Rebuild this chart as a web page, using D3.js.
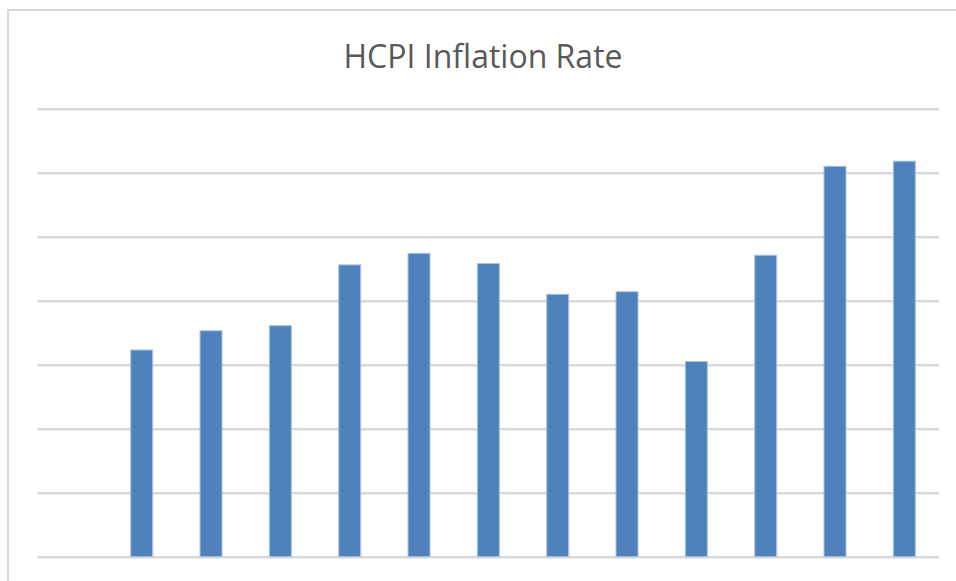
<!DOCTYPE html>
<html>
<head>
<meta charset="utf-8">
<script src="https://cdn.jsdelivr.net/npm/d3@7"></script>
<style>
  body { margin: 0; background: #fff; }
  .grid line { stroke: #d9d9d9; stroke-width: 2.5; }
  .grid .domain { display: none; }
</style>
</head>
<body>
<script>
// chart data (categories are not labelled in the original)
var categories = ["c0", "c1", "c2", "c3", "c4", "c5", "c6", "c7", "c8", "c9", "c10", "c11", "c12"];
var rates = [null, 3.23, 3.53, 3.61, 4.56, 4.74, 4.58, 4.10, 4.14, 3.05, 4.71, 6.10, 6.18];
var yTicks = [0, 1, 2, 3, 4, 5, 6, 7];
var chartTitle = "HCPI Inflation Rate";

var svgWidth = 956;
var svgHeight = 581;

var margin = { top: 108.7, right: 17, bottom: 24.3, left: 37.7 };
var chartWidth = svgWidth - margin.left - margin.right;
var chartHeight = svgHeight - margin.top - margin.bottom;

var svg = d3.select("body")
  .append("svg")
  .attr("width", svgWidth)
  .attr("height", svgHeight);

// outer chart border
svg.append("rect")
  .attr("x", 8)
  .attr("y", 10)
  .attr("width", 980)
  .attr("height", 600)
  .attr("fill", "none")
  .attr("stroke", "#d9d9d9")
  .attr("stroke-width", 2);

svg.append("text")
  .attr("x", 483)
  .attr("y", 68)
  .attr("text-anchor", "middle")
  .style("font-family", "'Open Sans', sans-serif")
  .style("font-size", "32px")
  .attr("fill", "#595959")
  .text(chartTitle);

var chartGroup = svg.append("g")
  .attr("transform", `translate(${margin.left}, ${margin.top})`);

var xBandScale = d3.scaleBand()
  .domain(categories)
  .range([0, chartWidth])
  .paddingInner(0.683)
  .paddingOuter(0.3415);

var yLinearScale = d3.scaleLinear()
  .domain([0, 7])
  .range([chartHeight, 0]);

// horizontal gridlines
chartGroup.append("g")
  .classed("grid", true)
  .call(d3.axisLeft(yLinearScale).tickValues(yTicks).tickSize(-chartWidth).tickFormat(""));

chartGroup.selectAll(".bar")
  .data(categories.map(function(c, i) { return { cat: c, value: rates[i] }; }).filter(d => d.value != null))
  .enter()
  .append("rect")
  .classed("bar", true)
  .attr("x", d => xBandScale(d.cat))
  .attr("y", d => yLinearScale(d.value))
  .attr("width", xBandScale.bandwidth())
  .attr("height", d => chartHeight - yLinearScale(d.value))
  .attr("fill", "#4f81bd")
  .attr("stroke", "#a9c2e0")
  .attr("stroke-width", 1);
</script>
</body>
</html>
